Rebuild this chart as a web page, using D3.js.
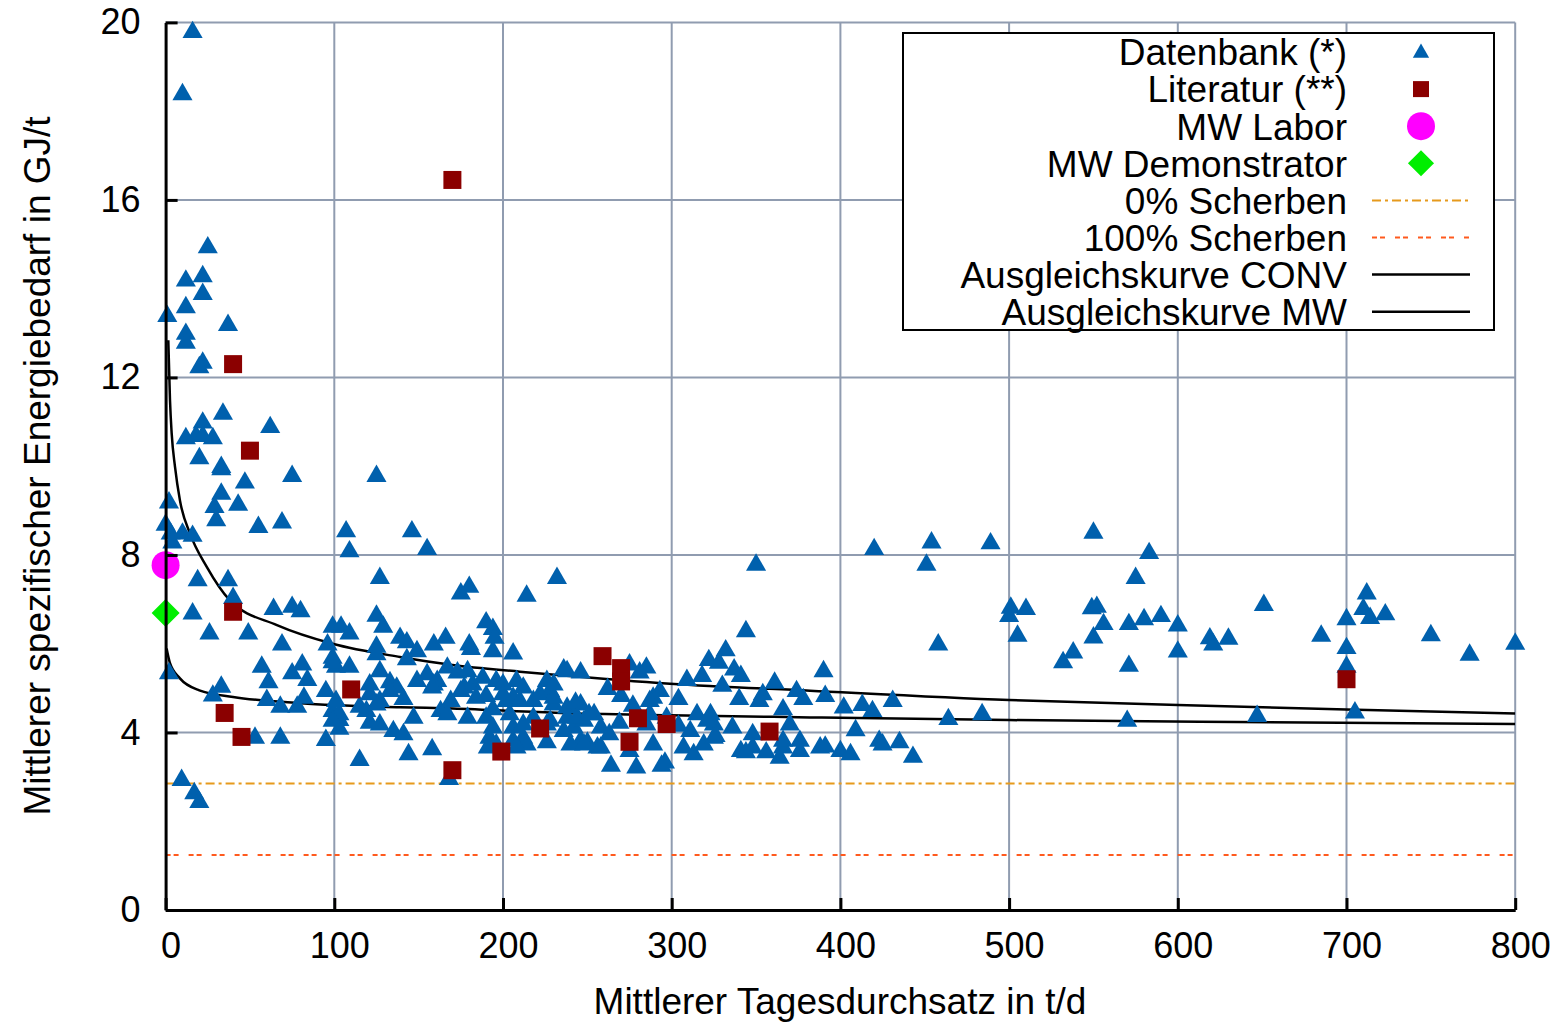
<!DOCTYPE html>
<html>
<head>
<meta charset="utf-8">
<script src="https://cdn.jsdelivr.net/npm/d3@7"></script>
<style>
  body { margin: 0; background: #fff; }
  text { font-family: "Liberation Sans", Arial, sans-serif; fill: #000; }
</style>
</head>
<body>
<script>
//Width and height
var w = 1555;
var h = 1024;
var plotLeft = 165.6, plotRight = 1515.2, plotTop = 22.4, plotBottom = 910;

//Tick values
var xTicks = [0, 100, 200, 300, 400, 500, 600, 700, 800];
var yTicks = [0, 4, 8, 12, 16, 20];

//Datenbank (*) - [Tagesdurchsatz t/d, Energiebedarf GJ/t]
var datenbank = [
  [16,19.8],[10,18.4],[25,14.95],[12,14.2],[22,14.3],[22,13.9],
  [1,13.4],[12,13.6],[12,13.0],[12,12.8],[37,13.2],[22,12.35],[20,12.25],
  [34,11.2],[22,11.0],[62,10.9],[12,10.65],[18,10.7],[22,10.7],[28,10.65],
  [20,10.2],[33,10.0],[33,9.95],[75,9.8],[47,9.65],[33,9.4],[29,9.1],[43,9.15],
  [2,9.2],[30,8.8],[55,8.65],[69,8.75],[0,8.7],[3,8.5],[10,8.5],[16,8.45],[4,8.3],
  [19,7.45],[37,7.45],[40,7.05],
  [16,6.7],[64,6.8],[75,6.85],[80,6.75],[26,6.25],[49,6.25],[69,6.0],[2,5.35],
  [57,5.5],[81,5.55],[75,5.35],[61,5.15],[84,5.2],[33,5.05],[28,4.85],[60,4.75],
  [68,4.6],[78,4.6],[82,4.8],[53,3.9],[68,3.9],[95,3.85],[9.5,2.95],[17,2.65],[20,2.45],
  [96,6.0],[95,4.95],
  [107,8.55],[109,8.1],[125,9.8],[127,7.5],[146,8.55],[155,8.15],[175,7.15],[180,7.3],
  [214,7.1],[232,7.5],
  [99,6.4],[104,6.4],[109,6.25],[125,6.65],[129,6.4],[99,5.7],[101,5.5],[109,5.5],
  [125,5.95],[127,5.4],[133,5.15],[121,5.1],[99,4.5],[103,4.3],[103,4.1],[119,4.5],
  [127,4.2],[135,4.05],[115,4.6],[115,3.4],
  [139,6.15],[143,6.05],[149,5.85],[159,6.0],[166,6.15],[180,6.0],[181,5.9],[190,6.5],
  [194,6.35],[195,6.15],[194,5.85],[206,5.8],
  [99,5.6],[125,5.78],[137,5.03],[141,4.77],[149,5.18],[155,5.33],[161,5.18],[159,5.1],
  [167,5.48],[173,5.37],[179,5.4],[177,5.03],[182,5.1],[188,5.25],[184,4.8],[190,4.84],
  [196,5.18],[200,5.1],[208,5.18],[212,5.03],[206,4.8],[202,4.73],[218,4.73],[226,5.18],
  [228,4.95],[222,4.88],[238,4.58],[246,4.65],[238,5.4],[246,5.37],[254,4.43],
  [103,4.43],[99,4.28],[121,4.24],[141,3.98],[147,4.35],[125,4.65],[133,4.95],[144,3.53],
  [158,3.64],[163,4.5],[167,4.43],[179,4.35],[190,4.35],[194,4.13],[192,3.9],[196,3.75],
  [206,4.13],[212,3.9],[214,3.75],[206,3.83],[218,4.35],[226,4.2],[226,3.8],[238,4.35],
  [242,4.13],[246,3.83],[240,3.75],[256,3.68],[168,2.97],
  [143,5.67],[158,5.03],[101,4.73],[121,4.88],[127,4.73],[169,4.73],[175,4.95],[194,4.54],
  [191,3.68],[200,4.88],[210,4.73],[204,4.43],[212,4.2],[208,3.68],[230,4.65],[228,4.28],
  [230,4.8],[243,4.69],[248,4.28],[236,4.05],[250,3.79],[258,3.68],
  [350,7.8],[344,6.3],[332,5.87],[322,5.65],[328,5.59],[337,5.44],[341,5.29],[318,5.29],
  [309,5.2],[330,5.07],[361,5.14],[390,5.4],[391,4.84],[374,4.95],[378,4.77],[354,4.88],
  [352,4.73],[340,4.77],[304,4.77],[293,4.95],[289,4.8],[285,5.48],[281,5.37],[275,5.55],
  [262,5.0],[270,4.84],[277,4.62],[236,5.44],[230,5.1],[244,4.35],[251,4.43],[258,4.13],
  [263,3.98],[269,4.24],[285,4.2],[289,3.75],[297,4.35],[307,3.68],[311,4.05],[313,3.53],
  [319,3.75],[315,4.43],[323,4.43],[325,4.2],[325,3.9],[336,4.13],[348,3.98],[341,3.6],
  [348,3.68],[356,3.57],[364,3.45],[366,3.68],[370,4.2],[376,3.83],[388,3.68],[400,3.6],
  [402,4.58],[264,3.27],[279,3.23],[294,3.27],[296,3.34],[275,3.6],[248,3.75],
  [287,4.73],[287,4.43],[304,4.17],[326,3.94],[321,4.28],[344,3.57],[366,3.83],[376,3.6],
  [366,4.54],
  [420,8.15],[454,8.3],[451,7.8],[489,8.28],[458,6.0],[550,8.52],[583,8.06],[575,7.5],
  [501,6.83],[500,6.64],[510,6.8],[505,6.2],[549,6.82],[552,6.85],[556,6.46],[550,6.16],
  [538,5.82],[532,5.6],[571,6.46],[571,5.52],[580,6.57],[590,6.64],[600,6.43],[600,5.84],
  [570,4.28],[484,4.43],[464,4.32],[431,4.73],[413,4.64],[419,4.5],[409,4.07],[423,3.83],
  [425,3.75],[435,3.8],[443,3.47],[406,3.53],[391,3.7],
  [651,6.89],[619,6.14],[621,6.0],[630,6.13],[685,6.2],[700,6.57],[700,5.92],[700,5.5],
  [712,7.15],[710,6.8],[714,6.6],[723,6.68],[750,6.21],[773,5.77],[800,6.02],[647,4.39],
  [705,4.47]
];

//Literatur (**)
var literatur = [
  [170,16.45],[40,12.3],[50,10.35],[40,6.72],[35,4.44],[45,3.9],[110,4.97],[170,3.15],
  [199,3.57],[222,4.09],[259,5.72],[270,5.45],[270,5.15],[280,4.32],[275,3.79],[297,4.19],
  [358,4.02],[700,5.2]
];

//MW points
var mwLabor = [[0, 7.77]];
var mwDemonstrator = [[0, 6.69]];

//Scherben reference levels
var scherben0 = 2.85;
var scherben100 = 1.24;

//Ausgleichskurven
var kurveConv = [
  [1.6,12.84],[2.6,11.49],[3.6,10.74],[5.6,9.98],[8.5,9.23],[14.5,8.48],[24.4,7.73],
  [38,6.98],[66,6.42],[99,6.0],[139,5.7],[170,5.52],[210,5.37],[234,5.29],[299,5.1],
  [382,4.94],[500,4.73],[600,4.62],[700,4.52],[800,4.43]
];
var kurveMW = [
  [0.6,5.89],[2.6,5.56],[8.5,5.22],[20,4.95],[40,4.8],[80,4.66],[139,4.57],[170,4.54],
  [234,4.44],[299,4.39],[382,4.34],[500,4.28],[613,4.24],[800,4.19]
];

var legendLabels = [
  "Datenbank (*)", "Literatur (**)", "MW Labor", "MW Demonstrator",
  "0% Scherben", "100% Scherben", "Ausgleichskurve CONV", "Ausgleichskurve MW"
];

//Colors
var cTri = "#0060ad", cSq = "#8b0000", cCirc = "#ff00ff", cDia = "#00ee00";
var c0 = "#e69a1c", c100 = "#ff5a1e", cGrid = "#909cb0";
var fontSize = "37px";

//Scales
var xScale = d3.scaleLinear().domain([0, 800]).range([plotLeft, plotRight]);
var yScale = d3.scaleLinear().domain([0, 20]).range([plotBottom, plotTop]);

//Create SVG element
var svg = d3.select("body").append("svg").attr("width", w).attr("height", h);

svg.append("defs").append("clipPath").attr("id", "clip")
  .append("rect")
  .attr("x", plotLeft).attr("y", plotTop)
  .attr("width", plotRight - plotLeft).attr("height", plotBottom - plotTop);

//Grid
var grid = svg.append("g").attr("stroke", cGrid).attr("stroke-width", 2);
grid.selectAll(".vg").data(xTicks.slice(1)).enter().append("line")
  .attr("x1", function (d) { return xScale(d); })
  .attr("x2", function (d) { return xScale(d); })
  .attr("y1", yScale(0)).attr("y2", yScale(20));
grid.selectAll(".hg").data(yTicks.slice(1)).enter().append("line")
  .attr("y1", function (d) { return yScale(d); })
  .attr("y2", function (d) { return yScale(d); })
  .attr("x1", xScale(0)).attr("x2", xScale(800));

var plot = svg.append("g").attr("clip-path", "url(#clip)");

//Scherben lines
plot.append("line")
  .attr("x1", xScale(0)).attr("x2", xScale(800))
  .attr("y1", yScale(scherben0)).attr("y2", yScale(scherben0))
  .attr("stroke", c0).attr("stroke-width", 2).attr("stroke-dasharray", "9,4,3,4");
plot.append("line")
  .attr("x1", xScale(0)).attr("x2", xScale(800))
  .attr("y1", yScale(scherben100)).attr("y2", yScale(scherben100))
  .attr("stroke", c100).attr("stroke-width", 2).attr("stroke-dasharray", "5,3,5,10");

//Symbols
var tri = d3.symbol().type(d3.symbolTriangle).size(175);
var sq = d3.symbol().type(d3.symbolSquare).size(324);

svg.append("g").selectAll("path").data(datenbank).enter().append("path")
  .attr("d", tri)
  .attr("transform", function (d) { return "translate(" + xScale(d[0]) + "," + (yScale(d[1]) + 1) + ")"; })
  .attr("fill", cTri);

//Curves
var line = d3.line()
  .x(function (d) { return xScale(d[0]); })
  .y(function (d) { return yScale(d[1]); })
  .curve(d3.curveMonotoneX);

plot.append("path").datum(kurveConv).attr("d", line)
  .attr("fill", "none").attr("stroke", "#000").attr("stroke-width", 2.5);
plot.append("path").datum(kurveMW).attr("d", line)
  .attr("fill", "none").attr("stroke", "#000").attr("stroke-width", 2.5);

svg.append("g").selectAll("path").data(literatur).enter().append("path")
  .attr("d", sq)
  .attr("transform", function (d) { return "translate(" + xScale(d[0]) + "," + yScale(d[1]) + ")"; })
  .attr("fill", cSq);

svg.append("g").selectAll("circle").data(mwLabor).enter().append("circle")
  .attr("cx", function (d) { return xScale(d[0]); })
  .attr("cy", function (d) { return yScale(d[1]); })
  .attr("r", 14).attr("fill", cCirc);

svg.append("g").selectAll("path").data(mwDemonstrator).enter().append("path")
  .attr("d", d3.symbol().type(d3.symbolSquare).size(392))
  .attr("transform", function (d) { return "translate(" + xScale(d[0]) + "," + yScale(d[1]) + ") rotate(45)"; })
  .attr("fill", cDia);

//Axes
var xAxis = d3.axisBottom(xScale).tickValues(xTicks).tickSize(-12).tickSizeOuter(0).tickPadding(22);
var yAxis = d3.axisLeft(yScale).tickValues(yTicks).tickSize(-12).tickSizeOuter(0).tickPadding(25);

var gx = svg.append("g")
  .attr("transform", "translate(0," + plotBottom + ")")
  .call(xAxis);
var gy = svg.append("g")
  .attr("transform", "translate(" + plotLeft + ",0)")
  .call(yAxis);

[gx, gy].forEach(function (g) {
  g.select(".domain").attr("stroke", "#000").attr("stroke-width", 3);
  g.selectAll(".tick line").attr("stroke", "#000").attr("stroke-width", 3);
  g.selectAll(".tick text")
    .style("font-family", "'Liberation Sans', Arial, sans-serif")
    .style("font-size", "36px").attr("fill", "#000");
});
gx.selectAll(".tick text").attr("dx", 5);

//Axis titles
svg.append("text")
  .attr("x", 840).attr("y", 1014)
  .attr("text-anchor", "middle")
  .style("font-size", fontSize)
  .text("Mittlerer Tagesdurchsatz in t/d");

svg.append("text")
  .attr("transform", "translate(50,466) rotate(-90)")
  .attr("text-anchor", "middle")
  .style("font-size", fontSize)
  .text("Mittlerer spezifischer Energiebedarf in GJ/t");

//Legend
var legend = svg.append("g");
legend.append("rect")
  .attr("x", 903).attr("y", 33).attr("width", 591).attr("height", 297)
  .attr("fill", "#fff").attr("stroke", "#000").attr("stroke-width", 2);

var rowY = function (i) { return 52 + i * 37.1; };
legend.selectAll("text").data(legendLabels).enter().append("text")
  .attr("x", 1347)
  .attr("y", function (d, i) { return rowY(i); })
  .attr("dy", "0.36em")
  .attr("text-anchor", "end")
  .style("font-size", fontSize)
  .text(function (d) { return d; });

var symX = 1421;
legend.append("path").attr("d", d3.symbol().type(d3.symbolTriangle).size(115))
  .attr("transform", "translate(" + symX + "," + (rowY(0) + 1) + ")").attr("fill", cTri);
legend.append("path").attr("d", d3.symbol().type(d3.symbolSquare).size(256))
  .attr("transform", "translate(" + symX + "," + rowY(1) + ")").attr("fill", cSq);
legend.append("circle").attr("cx", symX).attr("cy", rowY(2)).attr("r", 14).attr("fill", cCirc);
legend.append("path").attr("d", d3.symbol().type(d3.symbolSquare).size(340))
  .attr("transform", "translate(" + symX + "," + rowY(3) + ") rotate(45)").attr("fill", cDia);
legend.append("line").attr("x1", 1372).attr("x2", 1470).attr("y1", rowY(4)).attr("y2", rowY(4))
  .attr("stroke", c0).attr("stroke-width", 2).attr("stroke-dasharray", "9,4,3,4");
legend.append("line").attr("x1", 1372).attr("x2", 1470).attr("y1", rowY(5)).attr("y2", rowY(5))
  .attr("stroke", c100).attr("stroke-width", 2).attr("stroke-dasharray", "5,3,5,10");
legend.append("line").attr("x1", 1372).attr("x2", 1470).attr("y1", rowY(6)).attr("y2", rowY(6))
  .attr("stroke", "#000").attr("stroke-width", 2.5);
legend.append("line").attr("x1", 1372).attr("x2", 1470).attr("y1", rowY(7)).attr("y2", rowY(7))
  .attr("stroke", "#000").attr("stroke-width", 2.5);
</script>
</body>
</html>
